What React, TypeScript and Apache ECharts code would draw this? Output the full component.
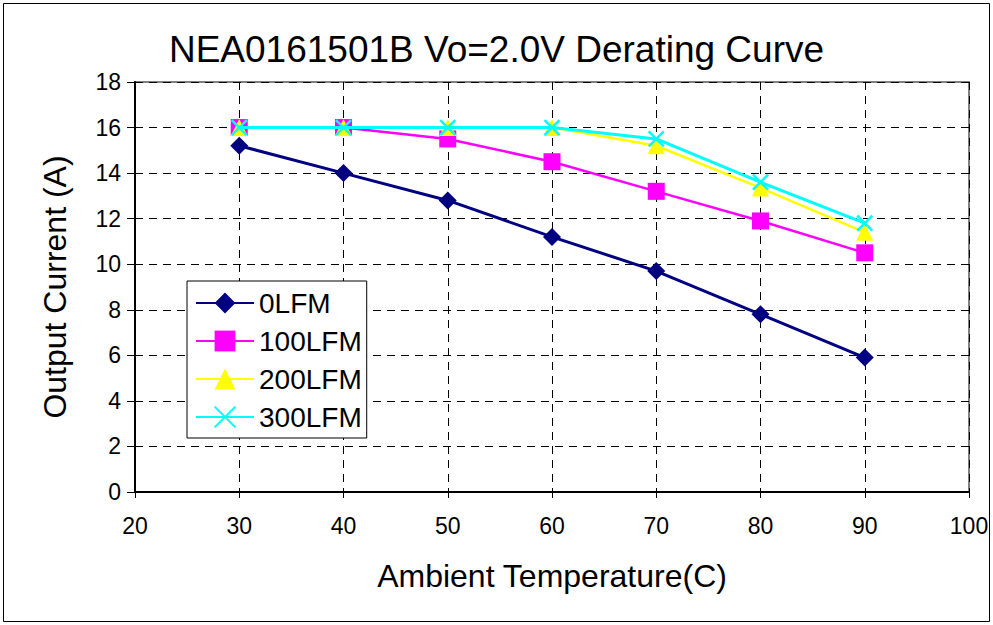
import React, { useEffect, useRef } from "react";
import * as echarts from "echarts";

const temps = [30, 40, 50, 60, 70, 80, 90];
const lfm0 = [15.2, 14.0, 12.8, 11.2, 9.7, 7.8, 5.9];
const lfm100 = [16, 16, 15.5, 14.5, 13.2, 11.9, 10.5];
const lfm200 = [16, 16, 16, 16, 15.2, 13.35, 11.4];
const lfm300 = [16, 16, 16, 16, 15.5, 13.6, 11.8];
const seriesNames = ["0LFM", "100LFM", "200LFM", "300LFM"];
const titleText = "NEA0161501B Vo=2.0V Derating Curve";
const xName = "Ambient Temperature(C)";
const yName = "Output Current (A)";

const FONT = "'Liberation Sans', Arial, sans-serif";
const crossPath = "path://M0,0L10,10M10,0L0,10";

export default function App() {
  const ref = useRef<HTMLDivElement>(null);
  useEffect(() => {
    if (!ref.current) return;
    const chart = echarts.init(ref.current, undefined, { renderer: "svg" });
    const pair = (arr: number[]) => temps.map((t, i) => [t, arr[i]]);
    chart.setOption({
      animation: false,
      backgroundColor: "#fff",
      title: {
        text: titleText,
        left: "center",
        top: 26,
        textStyle: { fontFamily: FONT, fontSize: 37, fontWeight: "normal", color: "#000" },
      },
      grid: {
        left: 135,
        right: 24,
        top: 82,
        bottom: 133,
        show: true,
        borderColor: "#808080",
        borderWidth: 2,
        backgroundColor: "#fff",
      },
      legend: {
        orient: "vertical",
        left: 187,
        top: 281,
        backgroundColor: "#fff",
        borderColor: "#000",
        borderWidth: 1,
        padding: [8, 5, 7, 8],
        itemWidth: 58,
        itemHeight: 26,
        itemGap: 10,
        textStyle: { fontFamily: FONT, fontSize: 28, color: "#000" },
        data: seriesNames,
      },
      xAxis: {
        type: "value",
        min: 20,
        max: 100,
        interval: 10,
        name: xName,
        nameLocation: "middle",
        nameGap: 68,
        nameTextStyle: { fontFamily: FONT, fontSize: 32, color: "#000" },
        axisLine: { show: true, lineStyle: { color: "#000", width: 2 } },
        axisTick: { show: true, length: 6, lineStyle: { color: "#000" } },
        axisLabel: { fontFamily: FONT, fontSize: 23, color: "#000", margin: 22 },
        splitLine: { show: true, lineStyle: { color: "#000", type: [8, 6], width: 1 } },
      },
      yAxis: {
        type: "value",
        min: 0,
        max: 18,
        interval: 2,
        name: yName,
        nameLocation: "middle",
        nameGap: 64,
        nameTextStyle: { fontFamily: FONT, fontSize: 32, color: "#000" },
        axisLine: { show: true, lineStyle: { color: "#000", width: 2 } },
        axisTick: { show: true, length: 8, lineStyle: { color: "#000" } },
        axisLabel: { fontFamily: FONT, fontSize: 23, color: "#000", margin: 14 },
        splitLine: { show: true, lineStyle: { color: "#000", type: [8, 6], width: 1 } },
      },
      series: [
        {
          name: seriesNames[0],
          type: "line",
          data: pair(lfm0),
          symbol: "diamond",
          symbolSize: 18,
          lineStyle: { color: "#000080", width: 3 },
          itemStyle: { color: "#000080" },
          z: 5,
        },
        {
          name: seriesNames[1],
          type: "line",
          data: pair(lfm100),
          symbol: "rect",
          symbolSize: 17,
          lineStyle: { color: "#FF00FF", width: 2.5 },
          itemStyle: { color: "#FF00FF" },
          z: 6,
        },
        {
          name: seriesNames[2],
          type: "line",
          data: pair(lfm200),
          symbol: "triangle",
          symbolSize: 17,
          lineStyle: { color: "#FFFF00", width: 2.5 },
          itemStyle: { color: "#FFFF00" },
          z: 7,
        },
        {
          name: seriesNames[3],
          type: "line",
          data: pair(lfm300),
          symbol: crossPath,
          symbolSize: 15,
          lineStyle: { color: "#00FFFF", width: 3 },
          itemStyle: { color: "#00FFFF", borderColor: "#00FFFF", borderWidth: 2.5 },
          z: 8,
        },
      ],
      graphic: [
        {
          type: "rect",
          shape: { x: 3.5, y: 3.5, width: 986, height: 618 },
          style: { fill: "none", stroke: "#000", lineWidth: 1 },
          silent: true,
        },
      ],
    });
    return () => chart.dispose();
  }, []);
  return (
    <div
      ref={ref}
      style={{ position: "fixed", left: 0, top: 0, width: 993, height: 625 }}
    />
  );
}
